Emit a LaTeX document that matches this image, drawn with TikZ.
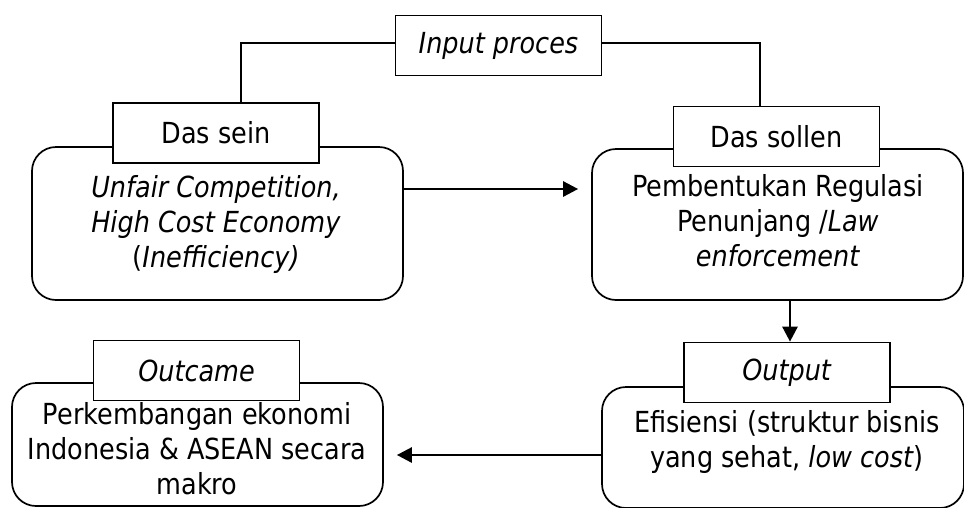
\documentclass[tikz,border=0pt]{standalone}
\usepackage{fontspec}
\setmainfont{DejaVu Sans}[FakeStretch=0.88]
\usetikzlibrary{arrows.meta}

\begin{document}
\begin{tikzpicture}[x=1pt,y=-1pt,line width=1.7pt,font=\fontsize{29}{35}\selectfont]

      \clip (0,0) rectangle (964,507);

      \begin{scope}[every node/.style={draw,rounded corners=24pt,minimum width=371pt}]
        \node[minimum height=153pt] (seinbox)    at (217.5,223.5) {};
        \node[minimum height=151pt] (sollenbox)  at (777.5,224.5) {};
        \node[minimum height=123pt] (outcomebox) at (197.5,444.5) {};
        \node[minimum height=121pt,minimum width=362pt] (efisbox) at (783,447.5) {};
      \end{scope}

      \begin{scope}[every node/.style={draw,fill=white,minimum width=206pt,minimum height=60pt}]
        \node (inputlbl)   at (498.5,45.5)  {\textit{Input proces}};
        \node (seinlbl)    at (216,133)     {Das sein};
        \node (sollenlbl)  at (776.5,136.5) {Das sollen};
        \node (outcamelbl) at (196.5,370.5) {\textit{Outcame}};
        \node (outputlbl)  at (787,372.5)   {\textit{Output}};
      \end{scope}

      \begin{scope}[every node/.style={align=center}]
        \node (seintext)    at (216,224)   {\textit{Unfair Competition,}\\ \textit{High Cost Economy}\\ (\textit{Inefficiency)}};
        \node (sollentext)  at (778,221)   {Pembentukan Regulasi\\ Penunjang /\textit{Law}\\ \textit{enforcement}};
        \node (outcometext) at (197,449)   {Perkembangan ekonomi\\ Indonesia \& ASEAN secara\\ makro};
        \node (efistext)    at (787,442)   {Efisiensi (struktur bisnis\\ yang sehat, \textit{low cost})};
      \end{scope}

      \draw ([yshift=2.5pt]inputlbl.west) -| ([xshift=25pt]seinlbl.north);
      \draw ([yshift=2.5pt]inputlbl.east) -| ([xshift=-16.5pt]sollenlbl.north);

      \begin{scope}[line width=2.6pt,-{Triangle[length=15pt,width=15pt]}]
        \draw ([yshift=34.5pt]seinbox.east) -- ([yshift=35.5pt,xshift=-13pt]sollenbox.west);
        \draw ([xshift=3pt]outputlbl.north |- sollenbox.south) -- ([xshift=3pt]outputlbl.north);
        \draw ([yshift=-7.5pt]efisbox.west) -- ([yshift=-10.5pt,xshift=13pt]outcomebox.east);
      \end{scope}

    \end{tikzpicture}
\end{document}
